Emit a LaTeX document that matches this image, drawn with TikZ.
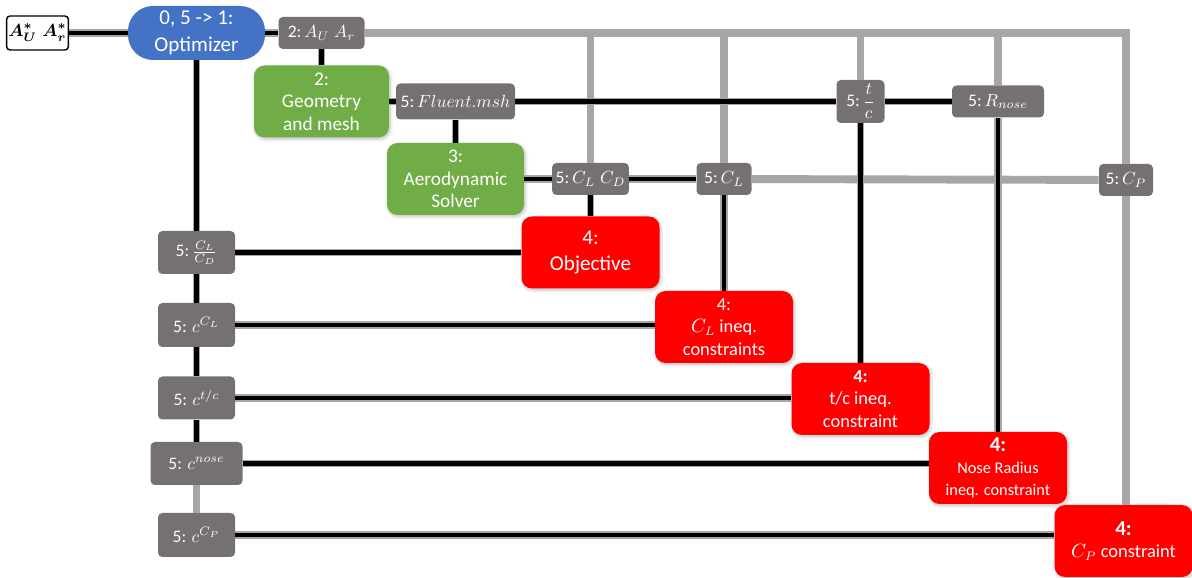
\documentclass[tikz,border=0pt]{standalone}
\usepackage{fontspec}
\setmainfont{Carlito}
\usepackage{amsmath}
\usepackage{tikz}
\usetikzlibrary{calc,positioning,shadows.blur}
\definecolor{xdsmBlue}{HTML}{4472C4}
\definecolor{xdsmGreen}{HTML}{70AD47}
\definecolor{xdsmRed}{HTML}{FF0000}
\definecolor{dataGray}{HTML}{767171}
\definecolor{lineGray}{HTML}{A6A6A6}

\begin{document}
\begin{tikzpicture}[
  optbox/.style={fill=xdsmBlue,rounded corners=0.5cm,minimum width=2.74cm,minimum height=1.08cm,align=center,text=white,font=\fontsize{12}{15}\selectfont,inner sep=1pt},
  solver/.style={fill=xdsmGreen,rounded corners=6pt,minimum width=2.74cm,minimum height=1.44cm,align=center,text=white,font=\fontsize{11}{12.8}\selectfont,inner sep=1pt,blur shadow={shadow blur steps=6,shadow xshift=0.7pt,shadow yshift=-0.9pt,shadow opacity=25}},
  func/.style={solver,fill=xdsmRed,minimum width=2.76cm,font=\fontsize{10.5}{12.8}\selectfont},
  datum/.style={fill=dataGray,rounded corners=2.5pt,text=white,inner sep=2pt,minimum height=0.64cm,font=\fontsize{10}{11}\selectfont},
  inbox/.style={draw=black,thick,fill=white,rounded corners=2pt,minimum width=1.14cm,minimum height=0.68cm,inner sep=1pt,font=\boldmath},
  dataline/.style={lineGray,line width=4.5pt},
  procline/.style={draw=lineGray,line width=0.8pt,double=black,double distance=2.5pt}
]
  \useasboundingbox (0,0) rectangle (23.84,-11.56);

  % top row and disciplines
  \node[inbox] (input) at (0.75,-0.66) {$A_U^*\;A_r^*$};
  \node[optbox] (opt) at (3.93,-0.66) {0, 5 -> 1:\\Optimizer};
  \node[datum,minimum width=1.72cm] (xgeom) at (6.43,-0.66) {2:\,$A_U\;A_r$};
  \node[solver,minimum width=2.70cm] (geom) at (6.43,-2.03) {2:\\Geometry\\and mesh};
  \node[datum,minimum width=2.38cm,minimum height=0.72cm] (xmsh) at (9.11,-2.03) {5:\,$Fluent.msh$};
  \node[solver] (aero) at (9.11,-3.58) {3:\\Aerodynamic\\Solver};
  \node[datum,minimum width=1.38cm] (xclcd) at (11.81,-3.58) {5:\,$C_L\;C_D$};
  \node[datum,minimum width=1.10cm] (xcl) at (14.48,-3.58) {5:\,$C_L$};
  \node[datum,minimum width=0.96cm,minimum height=0.86cm,inner sep=0.5pt] (xtc) at (17.21,-2.03) {5:\,$\dfrac{t}{c}$};
  \node[datum,minimum width=1.84cm] (xrnose) at (19.96,-2.03) {5:\,$R_{nose}$};
  \node[datum,minimum width=1.08cm] (xcp) at (22.52,-3.60) {5:\,$C_P$};

  % functions
  \node[func,font=\fontsize{12}{15}\selectfont] (obj) at (11.81,-5.05) {4:\\Objective};
  \node[func] (clcon) at (14.48,-6.54) {4:\\$C_L$ ineq.\\constraints};
  \node[func] (tccon) at (17.21,-7.98) {\textbf{4:}\\t/c ineq.\\constraint};
  \node[func,font=\fontsize{9.3}{12.6}\selectfont] (nosecon) at (19.96,-9.36) {\textbf{\large 4:}\\Nose Radius\\ineq. constraint};
  \node[func] (cpcon) at (22.47,-10.82) {\textbf{\large 4:}\\$C_P$ constraint};

  % constraint values on the left
  \node[datum,minimum width=1.54cm,minimum height=0.86cm] (cldratio) at (3.93,-5.05) {5:\,$\frac{C_L}{C_D}$};
  \node[datum,minimum width=1.54cm,minimum height=0.88cm] (ccl) at (3.93,-6.50) {5: $c^{C_L}$};
  \node[datum,minimum width=1.54cm,minimum height=0.86cm] (ctc) at (3.93,-7.96) {5: $c^{t/c}$};
  \node[datum,minimum width=1.84cm,minimum height=0.86cm] (cnose) at (3.93,-9.27) {5: $c^{nose}$};
  \node[datum,minimum width=1.54cm,minimum height=0.88cm] (ccp) at (3.93,-10.70) {5: $c^{C_P}$};

  % data lines
  \coordinate (corner) at (xcp |- xgeom);
  \draw[dataline] (xgeom) -- (corner) -- (xcp);
  \draw[dataline] (xcp) -- (xcp |- cpcon.north);
  \draw[dataline] (xclcd |- xgeom) -- (xclcd);
  \draw[dataline] (xcl |- xgeom) -- (xcl);
  \draw[dataline] (xtc |- xgeom) -- (xtc);
  \draw[dataline] (xrnose |- xgeom) -- (xrnose);
  \draw[dataline] (xcl) -- (xcp);
  \draw[dataline] (cnose) -- (ccp);

  % process lines
  \draw[procline] (input) -- (opt);
  \draw[procline] (opt) -- (xgeom);
  \draw[procline] (xgeom) -- (geom);
  \draw[procline] (geom) -- (xmsh);
  \draw[procline] (xmsh) -- (xtc);
  \draw[procline] (xtc) -- (xrnose);
  \draw[procline] (xmsh) -- (aero);
  \draw[procline] (aero) -- (xclcd);
  \draw[procline] (xclcd) -- (xcl);
  \draw[procline] (xclcd) -- (obj);
  \draw[procline] (xcl) -- (clcon);
  \draw[procline] (xtc) -- (tccon);
  \draw[procline] (xrnose) -- (nosecon);
  \draw[procline] (opt) -- (cldratio);
  \draw[procline] (cldratio) -- (ccl);
  \draw[procline] (ccl) -- (ctc);
  \draw[procline] (ctc) -- (cnose);
  \draw[procline] (cldratio) -- (cldratio -| obj.west);
  \draw[procline] (ccl) -- (ccl -| clcon.west);
  \draw[procline] (ctc) -- (ctc -| tccon.west);
  \draw[procline] (cnose) -- (cnose -| nosecon.west);
  \draw[procline] (ccp) -- (ccp -| cpcon.west);
\end{tikzpicture}
\end{document}
